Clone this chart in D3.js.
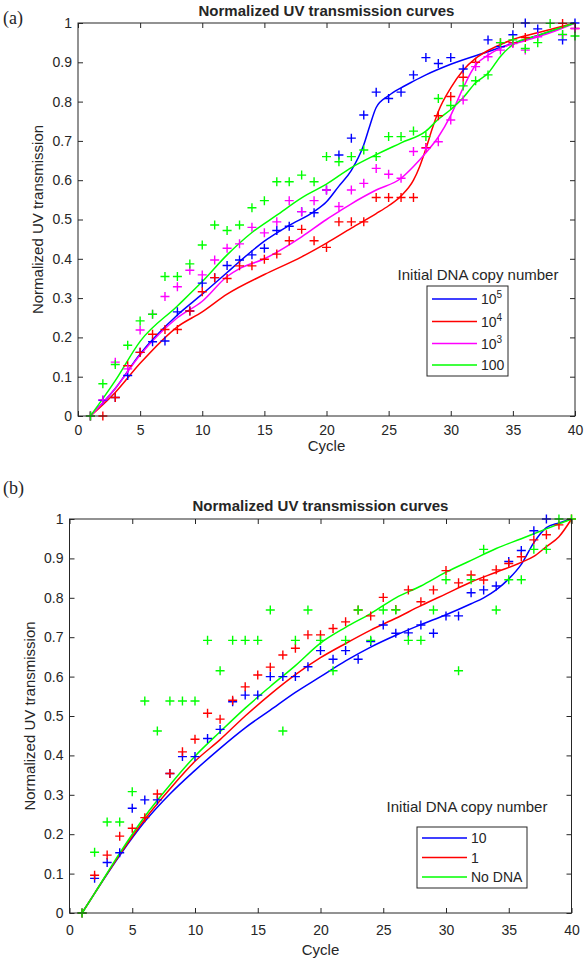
<!DOCTYPE html>
<html><head><meta charset="utf-8">
<script src="https://cdn.jsdelivr.net/npm/d3@7/dist/d3.min.js"></script>
<style>
body{margin:0;background:#fff}
svg{display:block}
text{font-family:"Liberation Sans",Arial,Helvetica,sans-serif;fill:#262626}
</style>
</head><body>
<svg id="chart" width="584" height="964"></svg>
<script>
// ---------- shared ticks ----------
const xTickValues = [0,5,10,15,20,25,30,35,40];
const yTickValues = [0,0.1,0.2,0.3,0.4,0.5,0.6,0.7,0.8,0.9,1];
const yTickLabels = ["0","0.1","0.2","0.3","0.4","0.5","0.6","0.7","0.8","0.9","1"];
const chartTitle = "Normalized UV transmission curves";
const xTitle = "Cycle";
const yTitle = "Normalized UV transmission";
const legendTitle = "Initial DNA copy number";

// ---------- panel (a) : measured points [cycle, value] ----------
const aBluePts = [[1,0],[2,0.04],[3,0.047],[4,0.103],[5,0.162],[6,0.189],[7,0.191],[8,0.265],[9,0.267],[10,0.338],[11,0.352],[12,0.383],[13,0.397],[14,0.41],[15,0.427],[16,0.472],[17,0.483],[18,0.52],[19,0.517],[20,0.575],[21,0.664],[22,0.707],[23,0.766],[24,0.824],[25,0.808],[26,0.824],[27,0.868],[28,0.912],[29,0.897],[30,0.912],[31,0.883],[33,0.957],[34,0.94],[35,0.97],[36,1.0],[37,0.985],[39,0.957],[40,1.0]];
const aRedPts = [[1,0],[2,0.0],[3,0.047],[4,0.128],[5,0.162],[6,0.208],[7,0.22],[8,0.22],[9,0.267],[10,0.316],[11,0.352],[12,0.35],[13,0.382],[14,0.382],[15,0.399],[16,0.412],[17,0.446],[18,0.475],[19,0.446],[20,0.429],[21,0.494],[22,0.494],[23,0.494],[24,0.556],[25,0.556],[26,0.556],[27,0.556],[28,0.683],[29,0.764],[30,0.813],[31,0.862],[32,0.9],[34,0.95],[35,0.95],[36,0.963],[39,0.999],[40,0.986]];
const aMagentaPts = [[1,0],[2,0.041],[3,0.137],[4,0.12],[5,0.219],[6,0.259],[7,0.304],[8,0.329],[9,0.371],[10,0.359],[11,0.397],[12,0.427],[13,0.438],[14,0.48],[15,0.466],[16,0.494],[17,0.548],[18,0.52],[19,0.548],[20,0.575],[21,0.533],[22,0.575],[23,0.592],[24,0.63],[25,0.615],[26,0.605],[27,0.673],[28,0.681],[29,0.698],[30,0.753],[31,0.804],[32,0.889],[33,0.914],[34,0.931],[35,0.948],[36,0.931],[37,0.965],[39,0.97],[40,0.986]];
const aGreenPts = [[1,0],[2,0.082],[3,0.131],[4,0.18],[5,0.242],[6,0.259],[7,0.355],[8,0.355],[9,0.387],[10,0.435],[11,0.486],[12,0.472],[13,0.486],[14,0.53],[15,0.548],[16,0.596],[17,0.596],[18,0.613],[19,0.596],[20,0.66],[21,0.647],[22,0.66],[23,0.677],[24,0.66],[25,0.711],[26,0.711],[27,0.725],[28,0.711],[29,0.808],[30,0.79],[31,0.84],[32,0.853],[33,0.868],[34,0.95],[35,0.957],[36,0.935],[37,0.95],[38,0.999],[39,0.971],[40,0.967]];

// ---------- panel (a) : fitted curves [cycle, value] ----------
const aBlueFit = [[1,0],[3,0.07],[5,0.158],[8,0.257],[10,0.31],[12,0.365],[13,0.393],[15,0.445],[17,0.485],[19,0.52],[20,0.545],[21,0.585],[22,0.625],[23,0.69],[23.5,0.74],[24,0.785],[25,0.815],[26,0.835],[27,0.852],[28,0.868],[30,0.895],[33,0.927],[35,0.948],[37,0.968],[40,1]];
const aRedFit = [[1,0],[3,0.06],[5,0.134],[8,0.227],[10,0.265],[12,0.31],[15,0.36],[18,0.405],[20,0.44],[22,0.478],[24,0.515],[25,0.535],[26,0.56],[27,0.6],[27.5,0.635],[28,0.68],[28.5,0.73],[29,0.775],[30,0.835],[31,0.88],[32,0.91],[33,0.93],[34,0.945],[35,0.958],[37,0.975],[40,1]];
const aMagentaFit = [[1,0],[3,0.07],[5,0.155],[8,0.25],[10,0.292],[12,0.355],[13,0.375],[15,0.4],[18,0.456],[20,0.5],[21,0.52],[22,0.54],[24,0.575],[26,0.605],[27,0.635],[28,0.67],[29,0.71],[30,0.765],[31,0.835],[32,0.893],[33,0.918],[34,0.936],[36,0.955],[38,0.975],[40,1]];
const aGreenFit = [[1,0],[3,0.09],[5,0.19],[8,0.28],[10,0.342],[12,0.41],[14,0.467],[16,0.511],[18,0.555],[20,0.59],[22,0.632],[24,0.665],[26,0.695],[28,0.725],[29,0.755],[30,0.78],[31,0.81],[32,0.848],[33,0.872],[34,0.915],[35,0.945],[37,0.968],[40,1]];

const aLegendBase = ["10","10","10","100"];
const aLegendSup = ["5","4","3",""];

// ---------- panel (b) : measured points ----------
const bBluePts = [[1,0],[2,0.088],[3,0.128],[4,0.153],[5,0.266],[6,0.287],[7,0.287],[8,0.354],[9,0.397],[10,0.397],[11,0.443],[12,0.466],[13,0.536],[14,0.553],[15,0.553],[16,0.6],[17,0.6],[18,0.6],[19,0.625],[20,0.666],[21,0.644],[22,0.666],[23,0.644],[24,0.689],[25,0.731],[26,0.71],[27,0.711],[28,0.731],[29,0.71],[30,0.754],[31,0.754],[32,0.813],[33,0.82],[34,0.83],[35,0.892],[36,0.92],[37,0.97],[38,1.0]];
const bRedPts = [[1,0],[2,0.096],[3,0.147],[4,0.195],[5,0.215],[6,0.242],[7,0.302],[8,0.354],[9,0.409],[10,0.441],[11,0.507],[12,0.492],[13,0.54],[14,0.574],[15,0.604],[16,0.624],[17,0.655],[18,0.672],[19,0.706],[20,0.706],[21,0.722],[22,0.739],[23,0.769],[24,0.754],[25,0.801],[26,0.77],[27,0.82],[28,0.79],[29,0.82],[30,0.869],[31,0.838],[32,0.858],[33,0.845],[34,0.871],[35,0.887],[36,0.904],[37,0.947],[38,0.96],[39,0.985],[40,1]];
const bGreenPts = [[1,0],[2,0.154],[3,0.231],[4,0.231],[5,0.308],[6,0.538],[7,0.462],[8,0.538],[9,0.538],[10,0.538],[11,0.692],[12,0.615],[13,0.692],[14,0.692],[15,0.692],[16,0.769],[17,0.462],[18,0.692],[19,0.769],[20,0.692],[21,0.615],[22,0.692],[23,0.769],[24,0.692],[25,0.769],[26,0.769],[27,0.692],[28,0.692],[29,0.769],[30,0.846],[31,0.615],[32,0.846],[33,0.923],[34,0.769],[35,0.846],[36,0.846],[37,0.923],[38,0.923],[39,1],[40,1]];

// ---------- panel (b) : fitted curves ----------
const bBlueFit = [[1,0],[2,0.05],[4,0.146],[6,0.232],[8,0.302],[10,0.362],[12,0.418],[14,0.47],[16,0.515],[18,0.56],[20,0.6],[22,0.64],[24,0.675],[26,0.705],[28,0.732],[30,0.757],[32,0.785],[33,0.8],[34,0.82],[35,0.848],[36,0.885],[37,0.94],[38,0.978],[39,0.99],[40,1]];
const bRedFit = [[1,0],[2,0.05],[4,0.148],[6,0.238],[8,0.315],[10,0.385],[12,0.44],[14,0.5],[16,0.555],[18,0.605],[20,0.648],[22,0.684],[24,0.718],[26,0.748],[28,0.78],[30,0.81],[32,0.84],[34,0.865],[36,0.89],[37,0.905],[38,0.93],[39,0.955],[40,1]];
const bGreenFit = [[1,0],[2,0.05],[4,0.152],[6,0.245],[8,0.325],[10,0.398],[12,0.46],[14,0.52],[16,0.575],[18,0.628],[20,0.685],[22,0.725],[24,0.76],[26,0.8],[28,0.83],[30,0.865],[32,0.895],[34,0.925],[36,0.95],[38,0.975],[40,1]];

const bLegendBase = ["10","1","No DNA"];
const bLegendSup = ["","",""];

// ---------- colours ----------
const cBlue = "#0000ff", cRed = "#ff0000", cMagenta = "#ff00ff", cGreen = "#00ff00";

const svg = d3.select("#chart");
const axisColor = "#262626";
const fontSans = "'Liberation Sans', Arial, Helvetica, sans-serif";

function drawPanel(cfg){
  const x = d3.scaleLinear().domain([0,40]).range([cfg.left, cfg.right]);
  const y = d3.scaleLinear().domain([0,1]).range([cfg.bottom, cfg.top]);
  const g = svg.append("g");

  const line = d3.line().x(d => x(d[0])).y(d => y(d[1])).curve(d3.curveMonotoneX);
  const plot = g.append("g");

  cfg.series.forEach(s => {
    plot.append("path").datum(s.fit).attr("d", line)
      .attr("fill","none").attr("stroke", s.color).attr("stroke-width",1.5);
  });
  cfg.series.forEach(s => {
    plot.append("g").selectAll("path").data(s.pts).join("path")
      .attr("transform", d => `translate(${x(d[0])},${y(d[1])})`)
      .attr("d","M-4.5,0H4.5M0,-4.5V4.5")
      .attr("stroke", s.color).attr("stroke-width",1.4).attr("fill","none");
  });

  // axes (inward ticks on all sides)
  const ax = g.append("g");
  const bottom = ax.append("g").attr("transform",`translate(0,${cfg.bottom})`)
    .call(d3.axisBottom(x).tickValues(xTickValues).tickSizeInner(-5).tickSizeOuter(0).tickPadding(cfg.xPad).tickFormat(d3.format("d")));
  const top = ax.append("g").attr("transform",`translate(0,${cfg.top})`)
    .call(d3.axisTop(x).tickValues(xTickValues).tickSizeInner(-5).tickSizeOuter(0).tickFormat(""));
  const left = ax.append("g").attr("transform",`translate(${cfg.left},0)`)
    .call(d3.axisLeft(y).tickValues(yTickValues).tickSizeInner(-5).tickSizeOuter(0).tickPadding(6).tickFormat((d,i)=>yTickLabels[i]));
  const right = ax.append("g").attr("transform",`translate(${cfg.right},0)`)
    .call(d3.axisRight(y).tickValues(yTickValues).tickSizeInner(-5).tickSizeOuter(0).tickFormat(""));
  [bottom,top,left,right].forEach(a => {
    a.select(".domain").remove();
    a.selectAll("line").attr("stroke", axisColor);
    a.selectAll("text").attr("font-size", 14).attr("fill", axisColor)
      .style("font-family", fontSans);
  });
  ax.append("rect").attr("x",cfg.left).attr("y",cfg.top)
    .attr("width",cfg.right-cfg.left).attr("height",cfg.bottom-cfg.top)
    .attr("fill","none").attr("stroke",axisColor).attr("stroke-width",1);

  // titles
  g.append("text").attr("x",(cfg.left+cfg.right)/2).attr("y",cfg.titleY)
    .attr("text-anchor","middle").attr("font-size",15).attr("font-weight","bold")
    .attr("fill","#000").text(chartTitle);
  g.append("text").attr("x",(cfg.left+cfg.right)/2).attr("y",cfg.xTitleY)
    .attr("text-anchor","middle").attr("font-size",15).text(xTitle);
  g.append("text").attr("transform",`translate(${cfg.yTitleX},${(cfg.top+cfg.bottom)/2}) rotate(-90)`)
    .attr("text-anchor","middle").attr("font-size",15).text(yTitle);
  g.append("text").attr("x",3).attr("y",cfg.tagY)
    .attr("font-size",18).attr("fill","#000")
    .style("font-family","'Liberation Serif','Times New Roman',serif").text(cfg.tagText);

  // legend
  const L = cfg.legend;
  g.append("text").attr("x",L.titleX).attr("y",L.titleY).attr("text-anchor","middle")
    .attr("font-size",15).text(legendTitle);
  g.append("rect").attr("x",L.x).attr("y",L.y).attr("width",L.w).attr("height",L.h)
    .attr("fill","#fff").attr("stroke",axisColor).attr("stroke-width",1);
  cfg.series.forEach((s,i) => {
    const yy = L.rowY[i];
    g.append("line").attr("x1",L.x+5).attr("x2",L.x+50).attr("y1",yy).attr("y2",yy)
      .attr("stroke",s.color).attr("stroke-width",1.5);
    const t = g.append("text").attr("x",L.x+54).attr("y",yy+5).attr("font-size",14);
    t.append("tspan").text(L.base[i]);
    if (L.sup[i]) t.append("tspan").attr("dy",-6).attr("font-size",10).text(L.sup[i]);
  });
}

drawPanel({
  tag:"a", tagText:"(a)", tagY:24,
  left:78, right:575, top:23, bottom:416,
  xPad:9, titleY:16, xTitleY:451, yTitleX:43,
  series:[
    {color:cBlue, pts:aBluePts, fit:aBlueFit},
    {color:cRed, pts:aRedPts, fit:aRedFit},
    {color:cMagenta, pts:aMagentaPts, fit:aMagentaFit},
    {color:cGreen, pts:aGreenPts, fit:aGreenFit}
  ],
  legend:{x:427, y:286, w:81, h:90, titleX:478, titleY:280, rowY:[299,321.5,343.5,365], base:aLegendBase, sup:aLegendSup}
});

drawPanel({
  tag:"b", tagText:"(b)", tagY:494,
  left:69.5, right:571.5, top:519, bottom:913,
  xPad:12, titleY:511, xTitleY:955, yTitleX:35,
  series:[
    {color:cBlue, pts:bBluePts, fit:bBlueFit},
    {color:cRed, pts:bRedPts, fit:bRedFit},
    {color:cGreen, pts:bGreenPts, fit:bGreenFit}
  ],
  legend:{x:417, y:827, w:110, h:61, titleX:467, titleY:812, rowY:[838,857.5,877], base:bLegendBase, sup:bLegendSup}
});
</script>
</body></html>
